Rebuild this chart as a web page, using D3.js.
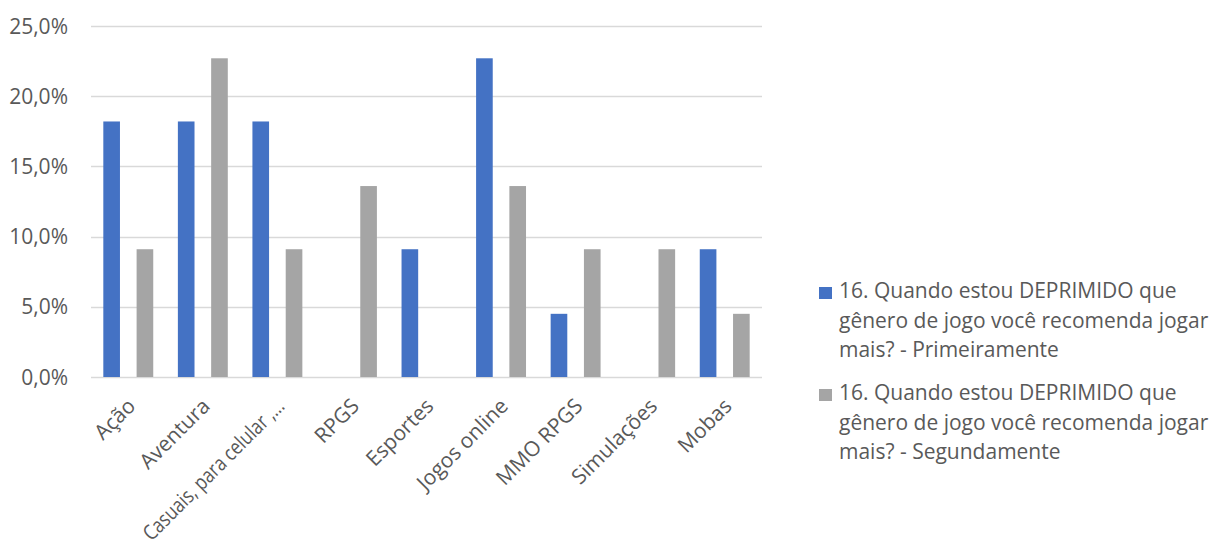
<!DOCTYPE html>
<meta charset="utf-8">
<script src="https://d3js.org/d3.v7.min.js"></script>
<style>
  body { margin: 0; background: #fff; }
  text { font-family: "Open Sans", sans-serif; fill: #595959; }
</style>
<div id="chart"></div>
<script>
// data
var categories = ["Ação", "Aventura", "Casuais, para celular ,...", "RPGS", "Esportes",
  "Jogos online", "MMO RPGS", "Simulações", "Mobas"];
var primeiramente = [18.2, 18.2, 18.2, 0, 9.1, 22.7, 4.5, 0, 9.1];
var segundamente = [9.1, 22.7, 9.1, 13.6, 0, 13.6, 9.1, 9.1, 4.5];
var seriesNames = [
  "16. Quando estou DEPRIMIDO que gênero de jogo você recomenda jogar mais? - Primeiramente",
  "16. Quando estou DEPRIMIDO que gênero de jogo você recomenda jogar mais? - Segundamente"
];
var legendLines = [
  ["16. Quando estou DEPRIMIDO que", "gênero de jogo você recomenda jogar", "mais? - Primeiramente"],
  ["16. Quando estou DEPRIMIDO que", "gênero de jogo você recomenda jogar", "mais? - Segundamente"]
];
var yTicks = [0, 5, 10, 15, 20, 25];
var colors = ["#4472C4", "#A5A5A5"];

var W = 1211, H = 549;
var plot = {left: 91, right: 762, top: 26, bottom: 377};
var fs = "21px";

var svg = d3.select("#chart").append("svg")
  .attr("width", W).attr("height", H);

var x0 = d3.scaleBand()
  .domain(categories)
  .range([plot.left, plot.right]);

var x1 = d3.scaleBand()
  .domain([0, 1])
  .range([0, x0.bandwidth()])
  .paddingInner(0.5)
  .paddingOuter(0.37);

var y = d3.scaleLinear()
  .domain([0, 25])
  .range([plot.bottom, plot.top]);

// gridlines
svg.append("g")
  .selectAll("line")
  .data(yTicks)
  .join("line")
  .attr("x1", plot.left).attr("x2", plot.right)
  .attr("y1", function(d) { return Math.round(y(d)) + 0.5; })
  .attr("y2", function(d) { return Math.round(y(d)) + 0.5; })
  .attr("stroke", "#D9D9D9")
  .attr("stroke-width", 1.3);

// y labels
var fmt = function(d) { return d.toFixed(1).replace(".", ",") + "%"; };
svg.append("g")
  .selectAll("text")
  .data(yTicks)
  .join("text")
  .attr("x", 68)
  .attr("y", function(d) { return y(d); })
  .attr("dy", "0.36em")
  .attr("text-anchor", "end")
  .style("font-size", fs)
  .text(fmt);

// bars
var seriesData = [primeiramente, segundamente];
seriesData.forEach(function(vals, s) {
  svg.append("g")
    .selectAll("rect")
    .data(vals)
    .join("rect")
    .attr("x", function(d, i) { return x0(categories[i]) + x1(s); })
    .attr("y", function(d) { return y(d); })
    .attr("width", x1.bandwidth())
    .attr("height", function(d) { return y(0) - y(d); })
    .attr("fill", colors[s]);
});

// x labels, rotated
var maxLabel = 190;
svg.append("g")
  .selectAll("text")
  .data(categories)
  .join("text")
  .attr("transform", function(d) {
    return "translate(" + (x0(d) + x0.bandwidth() / 2 - 2) + "," + 397 + ") rotate(-45)";
  })
  .attr("text-anchor", "end")
  .attr("dy", "0.7em")
  .style("font-size", fs)
  .text(function(d) { return d; })
  .each(function() {
    // long label squeezed a bit so it stays inside the picture like the original
    if (this.getComputedTextLength() > maxLabel) {
      d3.select(this).attr("textLength", maxLabel).attr("lengthAdjust", "spacingAndGlyphs");
    }
  });

// legend
var legend = svg.append("g");
legendLines.forEach(function(lines, s) {
  var top = 298 + s * 102;
  legend.append("rect")
    .attr("x", 819).attr("y", top - 11)
    .attr("width", 13).attr("height", 12)
    .attr("fill", colors[s]);
  var t = legend.append("text")
    .attr("x", 839).attr("y", top)
    .style("font-size", fs);
  t.append("title").text(seriesNames[s]);
  lines.forEach(function(line, k) {
    t.append("tspan")
      .attr("x", 839)
      .attr("y", top + k * 29.5)
      .text(line);
  });
});
</script>
